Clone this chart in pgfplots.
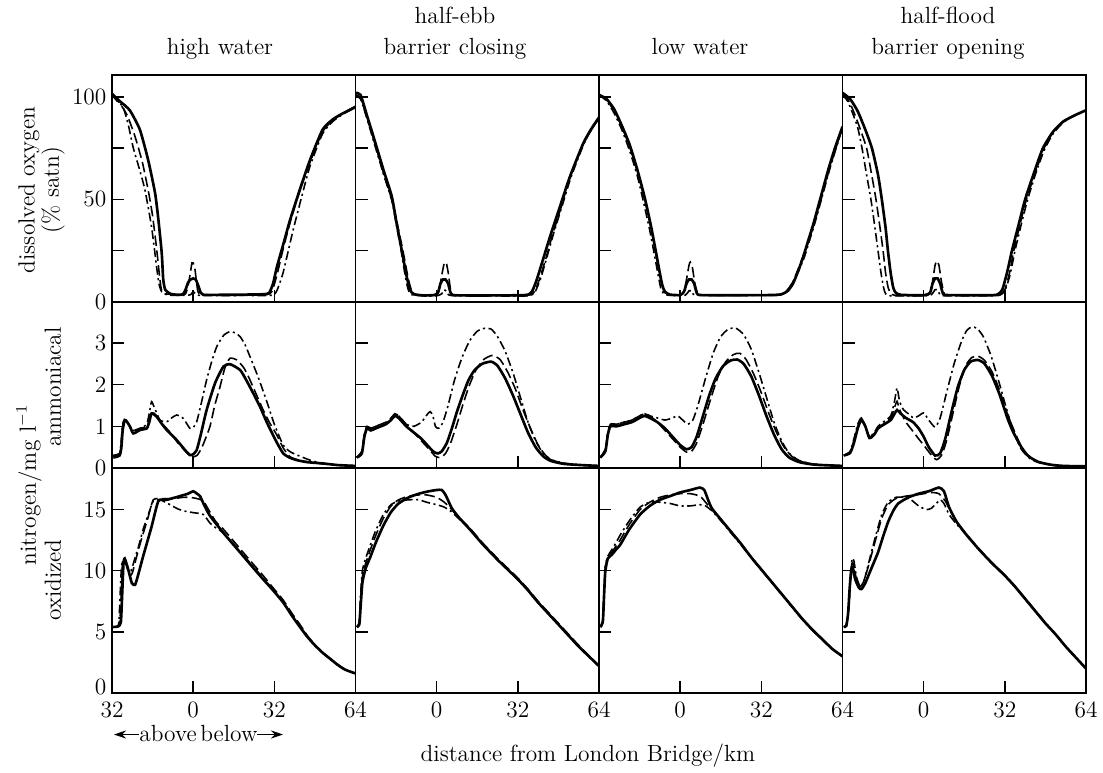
\documentclass[border=0pt]{standalone}
\usepackage{pgfplots}
\pgfplotsset{compat=1.18}
\usetikzlibrary{arrows.meta}
\newcommand\lab{\fontsize{13.3}{16}\selectfont}
\tikzset{
  sol/.style={black,line width=1.5pt},
  dsh/.style={black,line width=0.9pt,dash pattern=on 6pt off 2.5pt},
  dd/.style={black,line width=0.9pt,dash pattern=on 5pt off 2pt on 1.2pt off 2pt},
}
\pgfplotsset{
  panel/.style={scale only axis, width=4.87cm, anchor=south west,
    xmin=-32, xmax=64, xtick={0,32}, xticklabels={},
    xtick pos=bottom, ytick pos=left, tick align=inside,
    major tick length=0.24cm, tick style={black,line width=0.8pt},
    axis line style={line width=1.1pt}, yticklabels={},
    tick label style={font=\lab, inner sep=1pt},
    yticklabel style={xshift=-2pt},
    xticklabel style={yshift=-4pt},
    clip mode=individual,
    every axis plot/.append style={smooth,tension=0.35}},
  r1/.style={height=4.54cm, ymin=0, ymax=110.7, ytick={0,25,50,75,100}},
  r2/.style={height=3.32cm, ymin=0, ymax=3.98, ytick={0,1,2,3}},
  r3/.style={height=4.50cm, ymin=0, ymax=18.4, ytick={0,5,10,15},
    xtick={-32,0,32,64}, xticklabels={,0,32,64}},
}
\begin{document}
\begin{tikzpicture}
\path[use as bounding box] (0,0) rectangle (22.06,15.44);

% ---------- row 1: dissolved oxygen ----------
\begin{axis}[panel, r1, at={(2.24cm,9.40cm)}, yticklabels={0,,50,,100}]
\addplot[dd] coordinates {(-32,101) (-30,98) (-27.6,95) (-25.5,86) (-23.7,75.6) (-21,64) (-19,54.6) (-16.4,36.6) (-14.4,17) (-13.5,9) (-12.4,5) (-10,3.4) (-3,3.2) (-1,3.6) (0,5) (1,4) (3,3.2) (20,3.2) (31,3.3) (33,5.5) (35.4,14) (37.5,25) (39.4,35) (42.5,50) (46,66) (51,82) (55,88) (59,91.5) (64,95)};
\addplot[dsh] coordinates {(-32,101) (-29,97) (-26,91) (-23,81) (-20,68) (-17.5,53) (-16,42) (-14.5,27) (-13.2,12) (-12.5,6) (-11,4) (-5,3.5) (-3,4) (-2,8) (-1,15) (-0.5,19) (0,19) (0.7,16) (1.5,8) (2.5,4) (10,3.3) (20,3.3) (29,3.6) (31,5) (33,13) (35.5,26) (38.5,40) (42,54) (46,68) (51,83) (55,88.5) (59,92) (64,95.5)};
\addplot[sol] coordinates {(-32,101.5) (-29,98) (-25,93.5) (-21,84) (-17.7,69) (-15,53) (-13.7,40) (-12.4,24) (-11.8,11) (-11,6) (-9,4) (-6,3.5) (-4,3.8) (-3,6) (-2,9.5) (-1,11) (0,11.5) (1,11) (2,8) (3,4.5) (4,3.5) (10,3.5) (20,3.6) (28,3.8) (30,4.5) (31.5,9) (33,17) (35.5,28) (38.2,40) (42,54.6) (46,69) (51,84) (55,89) (59,92) (64,95)};
\end{axis}

\begin{axis}[panel, r1, at={(7.11cm,9.40cm)}]
\addplot[dd] coordinates {(-32,101) (-30,99) (-27.5,89.5) (-25,79) (-21,62.5) (-17.7,49.5) (-15.8,37) (-14,25) (-12.3,12) (-11.2,6) (-10,3.6) (-5,3) (0,3) (2,4) (3,6) (4,5) (5.5,3.2) (20,3) (36,3) (38.8,5) (41,11.5) (43.5,22) (46,33) (49.5,47) (53,61) (58,77) (61,84) (64,89.5)};
\addplot[dsh] coordinates {(-32,101) (-30,99.5) (-27.5,90) (-25,80) (-21,63) (-17.7,50) (-15.5,38) (-13.3,25) (-11.3,12) (-10,6) (-8.5,3.8) (-5,3.2) (0,3.4) (1,6) (2,13) (3,19) (3.8,19) (4.6,14) (5.5,6) (7,3.3) (20,3.2) (36,3.3) (38.5,5) (40.5,11) (43,21) (45.5,32) (49,46) (52.5,60.5) (57.8,77) (61,84) (64,89.5)};
\addplot[sol] coordinates {(-32,102) (-30,101) (-27.5,91) (-25,81) (-21,64.5) (-17.7,51.5) (-15.8,38.5) (-13.8,25.4) (-11.8,12.3) (-10.5,6) (-9,3.8) (-5,3.2) (-1,3.4) (0.5,4.5) (1.5,9) (2.5,11) (3.5,11) (4.5,9) (5.5,4.5) (7,3.3) (20,3.2) (35,3.4) (37.5,5) (39.4,10.7) (42,21) (44.7,31.9) (48.6,46.5) (52.5,61) (57.8,77.4) (61,84.5) (64,90)};
\end{axis}

\begin{axis}[panel, r1, at={(11.98cm,9.40cm)}]
\addplot[dd] coordinates {(-32,101) (-29,98) (-26,92) (-23,84) (-20,74) (-17,62) (-14.5,49) (-12,35) (-10,22) (-8.5,12) (-7.5,6) (-6,3.6) (-3,3.2) (2,3.3) (3.5,5.5) (4.5,5.5) (6,3.4) (20,3.2) (38,3.3) (41,4.5) (43,7) (45,11) (47,16) (49,22) (51,30) (53,38) (55,47) (57,56) (59,65) (61.5,75) (64,85)};
\addplot[dsh] coordinates {(-32,101) (-29,98.5) (-26,93) (-23,85.5) (-20,76) (-17,64) (-14,50) (-11.5,36) (-9.5,23) (-8,13) (-7,7) (-6,4.5) (-4,3.5) (0,3.3) (1.5,5) (2.5,11) (3.5,18) (4,19.5) (4.8,17) (5.8,9) (7,4) (9,3.3) (20,3.2) (38,3.3) (40.5,4) (42.5,6) (44.5,10) (46.5,16) (49,24) (51,31) (53,39) (55,47.5) (57,56.5) (59,65.5) (61.5,75.5) (64,85.5)};
\addplot[sol] coordinates {(-32,101) (-29,99) (-26,94) (-23,86) (-20,77) (-17,65) (-14,51) (-11.5,37) (-9.5,24) (-8,14) (-7,8) (-6,5) (-4,3.6) (0,3.4) (1.5,5) (2.5,9) (3.5,11) (4.5,11) (5.5,9) (6.5,4.5) (8,3.4) (20,3.3) (36,3.4) (40,3.8) (42.5,5.5) (44.5,9) (46.5,15) (48.5,22) (50.5,30) (52.5,38) (54.5,47) (56.5,56) (58.5,65) (61,75) (64,85.5)};
\end{axis}

\begin{axis}[panel, r1, at={(16.85cm,9.40cm)}]
\addplot[dd] coordinates {(-32,101) (-30,98) (-28,92) (-26,85) (-24.3,75) (-22.5,62) (-20.8,50) (-19.3,37) (-18,25) (-16.8,14) (-15.8,7) (-15,4) (-13,3) (0,3) (3,3.5) (4.5,6) (5.5,6) (6.5,3.5) (9,3) (25,3) (30,3.3) (32,5.5) (34,13) (36,25) (38.5,38) (41,50) (44,62) (47.5,74) (51,82) (55,87.5) (59.5,91) (64,93.5)};
\addplot[dsh] coordinates {(-32,101.5) (-30,99) (-28,94) (-25.5,86) (-22.5,75) (-20.5,62) (-18.8,50) (-17.3,37) (-16,25) (-15,14) (-14,7) (-13,4.2) (-11,3.2) (0,3.2) (2.5,4) (3.5,10) (4.5,18) (5.2,20) (6,18) (7,10) (8,4.5) (9.5,3.3) (25,3.2) (30,3.5) (32,6) (34,15) (35.5,25) (38,38) (40.5,50) (44,63) (47.5,75) (51,83) (55,88) (59.5,91) (64,93.5)};
\addplot[sol] coordinates {(-32,102) (-29,99) (-26,93) (-23,84) (-20.4,75) (-18,62) (-16.5,50) (-15,36) (-14.1,25) (-13,14) (-12,7) (-11,4.5) (-9,3.5) (0,3.3) (2.5,4.5) (3.5,9) (4.5,11.5) (5.5,11.5) (6.5,9) (7.5,4.5) (9,3.4) (25,3.3) (29,3.6) (31,6) (33,15) (34.8,25) (37.5,38) (40,50) (43.5,63) (47,75) (51,83) (55,88) (59.5,91) (64,93.5)};
\end{axis}

% ---------- row 2: ammoniacal nitrogen ----------
\begin{axis}[panel, r2, at={(2.24cm,6.08cm)}, yticklabels={0,1,2,3}]
\addplot[dd] coordinates {(-31.5,0.3) (-29,0.35) (-28.3,0.7) (-27.8,1.05) (-27,1.15) (-25.5,1.05) (-23.6,0.9) (-21,0.95) (-18.3,1.05) (-17.2,1.35) (-16.4,1.59) (-15.3,1.45) (-13.1,1.15) (-10.4,1.11) (-8.5,1.2) (-6.5,1.27) (-3.9,1.19) (-1.3,0.95) (0,0.97) (1.4,1.11) (3,1.5) (5.3,2.11) (7.3,2.55) (9.3,2.91) (12,3.18) (14.5,3.27) (16.5,3.24) (18.5,3.15) (20.5,2.95) (22.4,2.67) (25.5,2.2) (29,1.6) (32,1.05) (35.5,0.55) (38.5,0.38) (43.4,0.25) (47,0.17) (51,0.11) (57,0.07) (64,0.05)};
\addplot[dsh] coordinates {(-31.5,0.3) (-29,0.35) (-28.3,0.6) (-27.8,1.0) (-27,1.2) (-26,1.1) (-24.9,1.0) (-23.6,0.9) (-21,0.95) (-18.3,1.0) (-17,1.2) (-16.4,1.35) (-14.4,1.25) (-12,1.05) (-9,0.85) (-6,0.6) (-3,0.4) (-0.6,0.27) (1.5,0.3) (3.5,0.5) (6.6,0.99) (8.5,1.5) (10.6,1.95) (12.5,2.4) (14.5,2.63) (17.2,2.59) (20,2.4) (22.4,2.11) (25,1.75) (27.6,1.39) (30,1.1) (32.9,0.8) (35.5,0.48) (38.2,0.27) (41,0.2) (44.7,0.15) (51,0.1) (57,0.07) (64,0.05)};
\addplot[sol] coordinates {(-31.5,0.25) (-29,0.3) (-28.3,0.5) (-27.8,0.9) (-27,1.15) (-26,1.1) (-24.9,0.99) (-23.6,0.83) (-21,0.91) (-18.3,0.95) (-17.3,1.1) (-16.4,1.31) (-14.4,1.23) (-12.5,1.07) (-10.4,0.91) (-6.5,0.67) (-3.2,0.43) (-1.3,0.31) (0,0.33) (1.4,0.43) (3,0.8) (5.3,1.39) (8.6,2.03) (11.9,2.43) (14.5,2.49) (18.5,2.35) (21,2.1) (23.7,1.79) (26.5,1.45) (29,1.1) (32.9,0.62) (35.5,0.35) (38,0.25) (40.8,0.19) (45,0.14) (51,0.11) (57,0.07) (64,0.05)};
\end{axis}

\begin{axis}[panel, r2, at={(7.11cm,6.08cm)}]
\addplot[dd] coordinates {(-31.5,0.25) (-29.5,0.4) (-28.5,0.8) (-27.5,1.0) (-26,0.95) (-24,1.0) (-21,1.05) (-18,1.15) (-16.5,1.3) (-15,1.25) (-12,1.05) (-9,1.0) (-6,1.1) (-3.5,1.3) (-2.5,1.35) (-1.5,1.25) (-0.5,1.0) (0.8,0.95) (2.5,1.1) (4.5,1.5) (7,2.1) (10,2.65) (13,3.05) (16,3.28) (19,3.35) (21.5,3.33) (24,3.15) (27,2.8) (30,2.3) (33,1.7) (36,1.1) (39,0.65) (42,0.35) (45,0.2) (50,0.12) (57,0.07) (64,0.05)};
\addplot[dsh] coordinates {(-31.5,0.25) (-29.5,0.4) (-28.5,0.8) (-27.5,1.0) (-26,0.95) (-24,1.0) (-22,1.05) (-20,1.1) (-18,1.2) (-16.5,1.3) (-15,1.25) (-12,1.05) (-9,0.85) (-6,0.65) (-3,0.45) (-0.5,0.28) (1.5,0.25) (3.5,0.35) (5.5,0.6) (8,1.05) (10.5,1.55) (13,2.0) (15.5,2.35) (18.5,2.6) (22,2.7) (25,2.6) (28,2.3) (31,1.9) (34,1.4) (37,0.95) (40,0.55) (43,0.3) (46,0.18) (51,0.1) (57,0.07) (64,0.05)};
\addplot[sol] coordinates {(-31.5,0.25) (-29.5,0.35) (-28.5,0.75) (-27.5,0.95) (-26,0.9) (-24,0.95) (-22,1.0) (-20,1.05) (-18,1.15) (-16.5,1.25) (-15,1.2) (-12,1.0) (-9,0.85) (-6,0.7) (-3,0.5) (-1,0.38) (0.5,0.35) (2,0.4) (4,0.6) (6,0.95) (8,1.35) (10,1.7) (12.5,2.1) (15,2.35) (18,2.5) (21.5,2.55) (24,2.45) (27,2.15) (30,1.75) (33,1.3) (36,0.85) (39,0.5) (42,0.28) (45,0.17) (50,0.1) (57,0.07) (64,0.05)};
\end{axis}

\begin{axis}[panel, r2, at={(11.98cm,6.08cm)}]
\addplot[dd] coordinates {(-31.5,0.25) (-29.5,0.45) (-28.5,0.85) (-27.5,1.05) (-25,1.05) (-22,1.1) (-19,1.15) (-16,1.25) (-14,1.3) (-12,1.25) (-9,1.2) (-6,1.15) (-3,1.2) (-1,1.25) (1,1.15) (3,1.05) (5,1.15) (7,1.5) (10,2.15) (13,2.75) (16,3.15) (19,3.33) (22,3.35) (25,3.2) (28,2.85) (31,2.3) (34,1.7) (37,1.1) (40,0.65) (43,0.35) (47,0.18) (53,0.09) (64,0.05)};
\addplot[dsh] coordinates {(-31.5,0.25) (-29.5,0.45) (-28.5,0.85) (-27.5,1.05) (-25,1.05) (-22,1.1) (-19,1.15) (-16,1.25) (-14,1.3) (-12,1.25) (-9,1.1) (-6,0.9) (-3,0.7) (0,0.5) (2.5,0.38) (4.5,0.4) (6.5,0.6) (9,1.05) (12,1.65) (15,2.2) (18,2.55) (21,2.72) (23.5,2.75) (26,2.6) (29,2.25) (32,1.8) (35,1.3) (38,0.85) (41,0.5) (44,0.28) (48,0.15) (54,0.08) (64,0.05)};
\addplot[sol] coordinates {(-31.5,0.25) (-29.5,0.4) (-28.5,0.8) (-27.5,1.0) (-25,1.0) (-22,1.05) (-19,1.1) (-16,1.2) (-14,1.25) (-12,1.2) (-9,1.1) (-6,0.95) (-3,0.75) (0,0.55) (2.5,0.45) (4.5,0.5) (6.5,0.75) (9,1.25) (11.5,1.75) (14,2.15) (17,2.45) (20,2.58) (22.5,2.6) (25,2.5) (28,2.2) (31,1.75) (34,1.25) (37,0.8) (40,0.45) (43,0.25) (47,0.14) (53,0.08) (64,0.05)};
\end{axis}

\begin{axis}[panel, r2, at={(16.85cm,6.08cm)}]
\addplot[dd] coordinates {(-31.5,0.3) (-29,0.4) (-27.5,0.7) (-26,1.05) (-24.6,1.2) (-23,1.0) (-21.4,0.75) (-19.5,0.85) (-18,1.0) (-16,1.1) (-13,1.25) (-11.5,1.6) (-10.5,1.92) (-9.5,1.6) (-8,1.4) (-6,1.3) (-4,1.2) (-2,1.25) (0,1.32) (2,1.15) (4.5,0.98) (6.5,1.2) (9,1.8) (12,2.5) (15,3.05) (17,3.3) (18.9,3.38) (21,3.35) (23.5,3.15) (26.5,2.7) (29.5,2.1) (32.5,1.45) (35.5,0.85) (38.5,0.45) (42,0.22) (46,0.12) (52,0.06) (64,0.04)};
\addplot[dsh] coordinates {(-31.5,0.3) (-29,0.38) (-27.5,0.65) (-26,1.0) (-24.6,1.2) (-23,1.0) (-21.4,0.75) (-19.5,0.82) (-18,0.95) (-16,1.05) (-13,1.2) (-11.5,1.45) (-10.5,1.6) (-9.5,1.4) (-7,1.1) (-4.5,0.9) (-2,0.7) (0,0.55) (2.5,0.35) (5,0.2) (7,0.3) (9,0.65) (11.5,1.3) (14,1.95) (16.5,2.45) (19,2.65) (21.5,2.68) (24,2.58) (27,2.3) (30,1.85) (33,1.3) (36,0.85) (39,0.45) (42,0.25) (46,0.13) (52,0.06) (64,0.04)};
\addplot[sol] coordinates {(-31.5,0.3) (-29,0.36) (-27.5,0.6) (-26,0.95) (-24.6,1.15) (-23,1.0) (-21.4,0.72) (-19.5,0.8) (-18,0.95) (-16,1.03) (-13,1.15) (-11.5,1.3) (-10.5,1.39) (-9,1.3) (-7,1.2) (-4.2,1.1) (-2,0.95) (0,0.75) (2,0.5) (4.5,0.3) (6.5,0.35) (8.5,0.7) (11,1.35) (13.5,1.95) (16,2.35) (18.5,2.55) (21.4,2.59) (24,2.5) (27,2.2) (30,1.75) (33,1.2) (35,0.9) (38,0.55) (41,0.3) (45,0.15) (50,0.08) (55,0.05) (64,0.04)};
\end{axis}

% ---------- row 3: oxidized nitrogen ----------
\begin{axis}[panel, r3, at={(2.24cm,1.58cm)}, yticklabels={,5,10,15}, xticklabels={32,0,32,64}]
\addplot[dd] coordinates {(-31.5,5.4) (-29.5,5.5) (-29,7) (-28.5,9.5) (-28,10.7) (-27,10.8) (-25.8,10.3) (-24.5,10.0) (-23,11.0) (-21.5,12.0) (-19.7,13.4) (-17.5,14.7) (-15.7,15.7) (-13,15.8) (-11,15.6) (-9.1,15.4) (-6.5,15.1) (-3.9,14.9) (0,14.75) (4,14.6) (6.6,13.9) (9,13.5) (11.9,13.1) (18.5,11.6) (23,10.5) (27.6,9.4) (31.5,8.45) (35.5,7.45) (39,6.35) (42.1,5.45) (45,4.6) (48,3.9) (51,3.3) (54,2.8) (57,2.3) (60,1.9) (64,1.6)};
\addplot[dsh] coordinates {(-31.5,5.4) (-29.5,5.5) (-28.7,6.5) (-28.2,9) (-27.8,10.8) (-27,10.9) (-26,10.2) (-25,9.6) (-24,9.8) (-22.5,11) (-20.5,12.5) (-18,14.2) (-15.7,15.8) (-12,15.9) (-7.8,15.9) (-4,16.0) (-1.3,16.0) (1.5,15.9) (4,15.7) (6.6,14.8) (9,14.0) (11.9,13.4) (18.5,11.8) (23,10.7) (27.6,9.6) (31.5,8.6) (35.5,7.6) (39,6.5) (42.1,5.6) (45,4.7) (48,3.95) (51,3.3) (54,2.8) (57,2.3) (60,1.9) (64,1.6)};
\addplot[sol] coordinates {(-31.5,5.4) (-29.5,5.45) (-28.5,5.8) (-28,8) (-27.5,10.5) (-27,11.0) (-25.6,10.1) (-24.2,9.0) (-22.9,8.85) (-21.5,9.8) (-19.7,11.2) (-16.4,13.6) (-13.7,15.7) (-10.4,15.8) (-5.2,16.1) (-2,16.3) (0,16.5) (1.5,16.3) (2.7,16.1) (4.5,15.3) (6.6,14.5) (11.9,13.1) (18.5,11.5) (23,10.4) (27.6,9.3) (31.5,8.4) (35.5,7.4) (39,6.3) (42.1,5.4) (45,4.6) (48,3.9) (51,3.3) (54,2.8) (57,2.3) (60,1.9) (64,1.6)};
\node[anchor=east,font=\lab,inner sep=1pt,xshift=-2pt,yshift=3.5pt] at (axis cs:-32,0) {0};
\end{axis}

\begin{axis}[panel, r3, at={(7.11cm,1.58cm)}]
\addplot[dd] coordinates {(-31.5,5.4) (-30.5,5.8) (-30,8) (-29.3,10) (-28,11.0) (-26,12.2) (-24,13.3) (-21,14.6) (-18,15.4) (-15,15.7) (-11,15.8) (-7,15.8) (-4,15.6) (0,15.4) (3,15.2) (6,14.8) (9,14.2) (13,13.4) (18,12.2) (24,10.9) (28,10.1) (32,9.3) (36,8.4) (40,7.4) (44,6.5) (48,5.6) (52,4.7) (56,3.8) (60,3.0) (64,2.2)};
\addplot[dsh] coordinates {(-31.5,5.4) (-30.5,5.7) (-30,7.5) (-29.3,9.5) (-28,10.6) (-26,11.8) (-24,12.9) (-21,14.3) (-18,15.3) (-15,15.8) (-11,16.1) (-7,16.2) (-4,16.2) (0,16.0) (3,15.6) (6,15.0) (9,14.3) (13,13.5) (18,12.3) (24,11.0) (28,10.2) (32,9.4) (36,8.5) (40,7.5) (44,6.6) (48,5.7) (52,4.8) (56,3.9) (60,3.05) (64,2.25)};
\addplot[sol] coordinates {(-31.5,5.4) (-30.5,5.6) (-30,7) (-29.3,9) (-28,10.2) (-26,11.2) (-24,12.3) (-21,13.7) (-18,14.8) (-15,15.5) (-11,16.0) (-7,16.3) (-3,16.5) (0,16.6) (2,16.6) (3.5,16.2) (6,15.1) (9,14.3) (13,13.4) (18,12.2) (24,10.9) (28,10.1) (32,9.3) (36,8.4) (40,7.4) (44,6.5) (48,5.6) (52,4.7) (56,3.8) (60,3.0) (64,2.2)};
\end{axis}

\begin{axis}[panel, r3, at={(11.98cm,1.58cm)}]
\addplot[dd] coordinates {(-31.5,5.4) (-30.5,6) (-30,8.5) (-29.5,10.4) (-28.5,11.2) (-27,11.7) (-25,12.4) (-23.7,12.9) (-20,14.1) (-15.8,15.2) (-12,15.6) (-8,15.6) (-4,15.5) (0,15.3) (4,15.3) (7.8,15.4) (10,15.3) (12.5,14.9) (16,14.1) (20,13.1) (24,12.1) (28,11.05) (32,10.05) (36,9.05) (40,8.05) (44,7.05) (48,6.05) (52,5.15) (56,4.35) (60,3.6) (64,3.0)};
\addplot[dsh] coordinates {(-31.5,5.4) (-30.5,5.9) (-30,8.3) (-29.5,10.2) (-28.5,11.1) (-27,11.5) (-25,12.1) (-23.7,12.5) (-20,13.8) (-15.8,15.0) (-12,15.6) (-8,16.0) (-4,16.2) (0,16.3) (4,16.3) (7.8,16.1) (10,15.6) (12.5,15.0) (16,14.2) (20,13.2) (24,12.2) (28,11.1) (32,10.1) (36,9.1) (40,8.1) (44,7.1) (48,6.1) (52,5.2) (56,4.4) (60,3.6) (64,3.0)};
\addplot[sol] coordinates {(-31.5,5.4) (-30.5,5.8) (-30,8) (-29.5,10) (-28.5,11.0) (-27,11.3) (-25,11.8) (-23.7,12.1) (-20,13.4) (-15.8,14.6) (-12,15.3) (-8,15.8) (-4,16.1) (0,16.4) (4,16.6) (7.8,16.8) (9.5,16.6) (11,15.8) (12.5,15.1) (16,14.2) (20,13.2) (24,12.2) (28,11.1) (32,10.1) (36,9.1) (40,8.1) (44,7.1) (48,6.1) (52,5.2) (56,4.4) (60,3.6) (64,3.0)};
\end{axis}

\begin{axis}[panel, r3, at={(16.85cm,1.58cm)}]
\addplot[dd] coordinates {(-31.5,5.4) (-30.5,5.6) (-29.5,7) (-28.8,9.5) (-28.2,11.0) (-27.5,10.8) (-26.5,9.5) (-25,8.7) (-23.5,9.2) (-21.5,10.8) (-19,12.8) (-16.5,14.6) (-14,15.6) (-11,16.0) (-8,16.0) (-5,15.8) (-2,15.3) (1,15.0) (3,15.1) (5,15.5) (6.5,15.8) (8,15.5) (10,14.6) (13,13.8) (17,12.9) (22,11.7) (27,10.6) (32,9.6) (36,8.7) (40,7.7) (44,6.7) (48,5.7) (52,4.8) (56,3.8) (60,2.9) (64,2.0)};
\addplot[dsh] coordinates {(-31.5,5.4) (-30.5,5.55) (-29.5,7) (-28.9,9.2) (-28.3,10.6) (-27.6,10.5) (-26.6,9.4) (-25,8.7) (-23.5,9.2) (-21.5,10.6) (-19,12.5) (-16.5,14.3) (-14,15.4) (-11,15.9) (-7,16.1) (-3,16.2) (0,16.3) (3,16.4) (6,16.3) (8.5,15.7) (11,14.7) (13,14.0) (17,12.95) (22,11.75) (27,10.65) (32,9.65) (36,8.75) (40,7.75) (44,6.75) (48,5.75) (52,4.8) (56,3.8) (60,2.9) (64,2.0)};
\addplot[sol] coordinates {(-31.5,5.4) (-30.5,5.5) (-29.8,6.5) (-29.2,8.5) (-28.6,10.0) (-28,10.3) (-27,9.3) (-25.5,8.6) (-24.5,8.5) (-23,9.0) (-21,10.0) (-18,11.5) (-16,12.8) (-14,14.0) (-12,14.9) (-10,15.5) (-6,16.0) (-2,16.3) (2,16.5) (6,16.8) (8,16.5) (10,15.2) (13,14.0) (17,12.9) (22,11.7) (27,10.6) (32,9.6) (36,8.7) (40,7.7) (44,6.7) (48,5.7) (52,4.8) (56,3.8) (60,2.9) (64,2.0)};
\end{axis}

% ---------- titles and labels ----------
\node[anchor=base,font=\lab] at (4.40,14.34) {high water};
\node[anchor=base,font=\lab] at (9.10,14.96) {half-ebb};
\node[anchor=base,font=\lab] at (9.10,14.34) {barrier closing};
\node[anchor=base,font=\lab] at (14.00,14.34) {low water};
\node[anchor=base,font=\lab] at (18.96,14.96) {half-flood};
\node[anchor=base,font=\lab] at (18.96,14.34) {barrier opening};

\node[rotate=90,font=\lab] at (0.58,11.64) {dissolved oxygen};
\node[rotate=90,font=\lab] at (1.06,11.64) {(\% satn)};
\node[rotate=90,font=\lab] at (0.58,5.74) {nitrogen/mg l$^{-1}$};
\node[rotate=90,font=\lab] at (1.06,7.70) {ammoniacal};
\node[rotate=90,font=\lab] at (1.06,3.84) {oxidized};

\node[anchor=base east,font=\lab,inner sep=0pt] at (3.94,0.62) {above};
\node[anchor=base west,font=\lab,inner sep=0pt] at (4.00,0.62) {below};
\draw[-{Stealth[length=2.4mm,width=1.6mm]},line width=0.7pt] (2.78,0.75) -- (2.28,0.75);
\draw[-{Stealth[length=2.4mm,width=1.6mm]},line width=0.7pt] (5.14,0.75) -- (5.66,0.75);
\node[anchor=base,font=\lab] at (11.76,0.22) {distance from London Bridge/km};
\end{tikzpicture}
\end{document}
